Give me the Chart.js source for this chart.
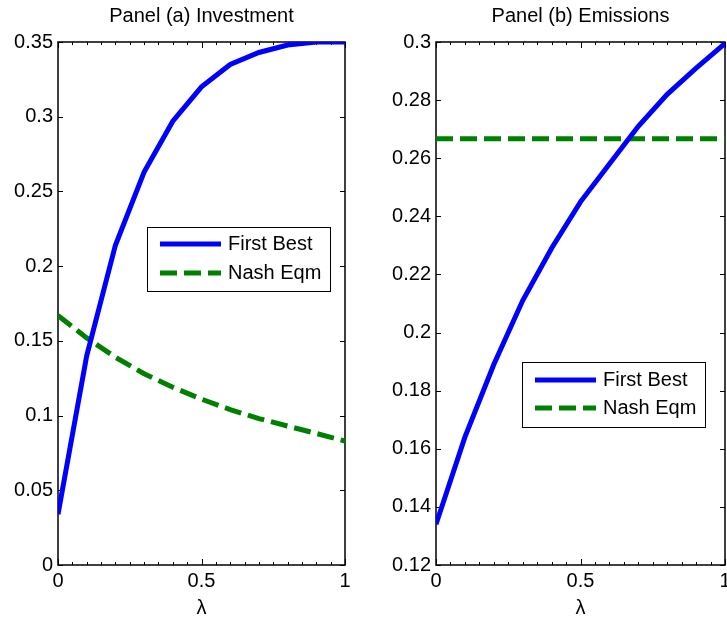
<!DOCTYPE html>
<html lang="en">
<head>
<meta charset="UTF-8">
<title>Panel (a) Investment / Panel (b) Emissions</title>
<style>
  html, body { margin: 0; padding: 0; background: #fff; }
  body { width: 727px; height: 626px; position: relative; overflow: hidden; }
  canvas { position: absolute; top: 0; }
  #chartA { left: 0; }
  #chartB { left: 380px; }
</style>
</head>
<body>
<canvas id="chartA" width="370" height="626"></canvas>
<canvas id="chartB" width="347" height="626"></canvas>

<script src="https://cdn.jsdelivr.net/npm/chart.js@4"></script>
<script>
// data
const lambda = [0, 0.1, 0.2, 0.3, 0.4, 0.5, 0.6, 0.7, 0.8, 0.9, 1];
const investFirstBest = [0.034, 0.140, 0.214, 0.263, 0.297, 0.320, 0.335, 0.343, 0.348, 0.350, 0.350];
const investNash      = [0.167, 0.152, 0.139, 0.128, 0.119, 0.111, 0.104, 0.098, 0.093, 0.088, 0.083];
const emisFirstBest   = [0.134, 0.164, 0.189, 0.211, 0.229, 0.245, 0.258, 0.271, 0.282, 0.291, 0.2995];
const emisNash        = [0.2667, 0.2667, 0.2667, 0.2667, 0.2667, 0.2667, 0.2667, 0.2667, 0.2667, 0.2667, 0.2667];
const xTicks  = [0, 0.5, 1];
const yTicksA = [0, 0.05, 0.1, 0.15, 0.2, 0.25, 0.3, 0.35];
const yTicksB = [0.12, 0.14, 0.16, 0.18, 0.2, 0.22, 0.24, 0.26, 0.28, 0.3];
const seriesNames = ['First Best', 'Nash Eqm'];
const panelTitles = ['Panel (a) Investment', 'Panel (b) Emissions'];
const xLabel = 'λ';

const FONT = "'Liberation Sans', Arial, Helvetica, sans-serif";
Chart.defaults.font.family = FONT;
Chart.defaults.font.size = 20;
Chart.defaults.color = '#000';

// box round the plot and inward ticks, matlab style
const axesBox = {
    id: 'axesBox',
    beforeDatasetsDraw(chart, args, opts) {
        const { ctx, chartArea: a } = chart;
        const xs = chart.scales.x, ys = chart.scales.y;
        ctx.save();
        ctx.strokeStyle = '#000';
        ctx.lineWidth = 1;
        ctx.beginPath();
        // minor ticks on x every 0.05
        for (let i = 0; i <= 20; i++) {
            const v = xs.min + i * (xs.max - xs.min) / 20;
            const px = Math.round(xs.getPixelForValue(v)) + 0.5;
            const len = xTicks.some(t => Math.abs(t - v) < 1e-9) ? 6 : 3;
            ctx.moveTo(px, a.bottom); ctx.lineTo(px, a.bottom - len);
            ctx.moveTo(px, a.top); ctx.lineTo(px, a.top + len);
        }
        opts.yTicks.forEach(v => {
            const py = Math.round(ys.getPixelForValue(v)) + 0.5;
            ctx.moveTo(a.left, py); ctx.lineTo(a.left + 5, py);
            ctx.moveTo(a.right, py); ctx.lineTo(a.right - 5, py);
        });
        ctx.stroke();
        ctx.lineWidth = 1.5;
        ctx.strokeRect(a.left, a.top, a.right - a.left, a.bottom - a.top);
        ctx.restore();
    }
};

// boxed legend inside the plot
const boxLegend = {
    id: 'boxLegend',
    afterDatasetsDraw(chart, args, opts) {
        const { ctx, chartArea: a } = chart;
        const x = Math.round(a.left + opts.x), y = Math.round(a.top + opts.y);
        ctx.save();
        ctx.fillStyle = '#fff';
        ctx.fillRect(x, y, opts.w, opts.h);
        ctx.strokeStyle = '#000';
        ctx.lineWidth = 1;
        ctx.strokeRect(x + 0.5, y + 0.5, opts.w, opts.h);
        chart.data.datasets.forEach((ds, i) => {
            const ry = y + opts.rows[i];
            ctx.beginPath();
            ctx.strokeStyle = ds.borderColor;
            ctx.lineWidth = ds.borderWidth;
            ctx.setLineDash(ds.borderDash || []);
            ctx.moveTo(x + 13, ry);
            ctx.lineTo(x + 74, ry);
            ctx.stroke();
            ctx.setLineDash([]);
            ctx.fillStyle = '#000';
            ctx.font = '20px ' + FONT;
            ctx.textBaseline = 'middle';
            ctx.fillText(ds.label, x + 81, ry);
        });
        ctx.restore();
    }
};

function makePanel(id, title, firstBest, nash, yTicks, yWidth, padRight, legendPos) {
    return new Chart(document.getElementById(id), {
        type: 'line',
        data: {
            labels: lambda,
            datasets: [{
                label: seriesNames[0],
                data: lambda.map((l, i) => ({ x: l, y: firstBest[i] })),
                borderColor: '#0000ff',
                borderWidth: 5,
                pointRadius: 0,
                tension: 0
            }, {
                label: seriesNames[1],
                data: lambda.map((l, i) => ({ x: l, y: nash[i] })),
                borderColor: '#008000',
                borderWidth: 5,
                borderDash: [17, 7],
                pointRadius: 0,
                tension: 0
            }]
        },
        options: {
            responsive: false,
            animation: false,
            layout: { padding: { left: 0, right: padRight, top: 0, bottom: 0 } },
            plugins: {
                legend: { display: false },
                tooltip: { enabled: false },
                title: {
                    display: true,
                    text: title,
                    fullSize: false,
                    color: '#000',
                    font: { size: 20, weight: 'normal' },
                    padding: { top: 4, bottom: 14 }
                },
                axesBox: { yTicks: yTicks },
                boxLegend: legendPos
            },
            scales: {
                x: {
                    type: 'linear',
                    min: 0,
                    max: 1,
                    afterBuildTicks: s => { s.ticks = xTicks.map(v => ({ value: v })); },
                    afterFit: s => { s.height = 61; s.paddingLeft = 0; s.paddingRight = 0; },
                    grid: { display: false, drawTicks: false },
                    border: { display: false },
                    ticks: {
                        padding: 4,
                        maxRotation: 0,
                        autoSkip: false,
                        callback: v => String(v)
                    },
                    title: {
                        display: true,
                        text: xLabel,
                        font: { size: 20 },
                        padding: { top: 0, bottom: 6 }
                    }
                },
                y: {
                    min: yTicks[0],
                    max: yTicks[yTicks.length - 1],
                    afterBuildTicks: s => { s.ticks = yTicks.map(v => ({ value: v })); },
                    afterFit: s => { s.width = yWidth; s.paddingTop = 0; s.paddingBottom = 0; },
                    grid: { display: false, drawTicks: false },
                    border: { display: false },
                    ticks: {
                        padding: 5,
                        autoSkip: false,
                        callback: v => String(parseFloat(v.toFixed(2)))
                    }
                }
            }
        },
        plugins: [axesBox, boxLegend]
    });
}

makePanel('chartA', panelTitles[0], investFirstBest, investNash, yTicksA, 58, 25,
    { x: 89, y: 185, w: 183, h: 64, rows: [17, 46] });
makePanel('chartB', panelTitles[1], emisFirstBest, emisNash, yTicksB, 56, 2,
    { x: 86, y: 320, w: 183, h: 65, rows: [18, 46] });
</script>
</body>
</html>
